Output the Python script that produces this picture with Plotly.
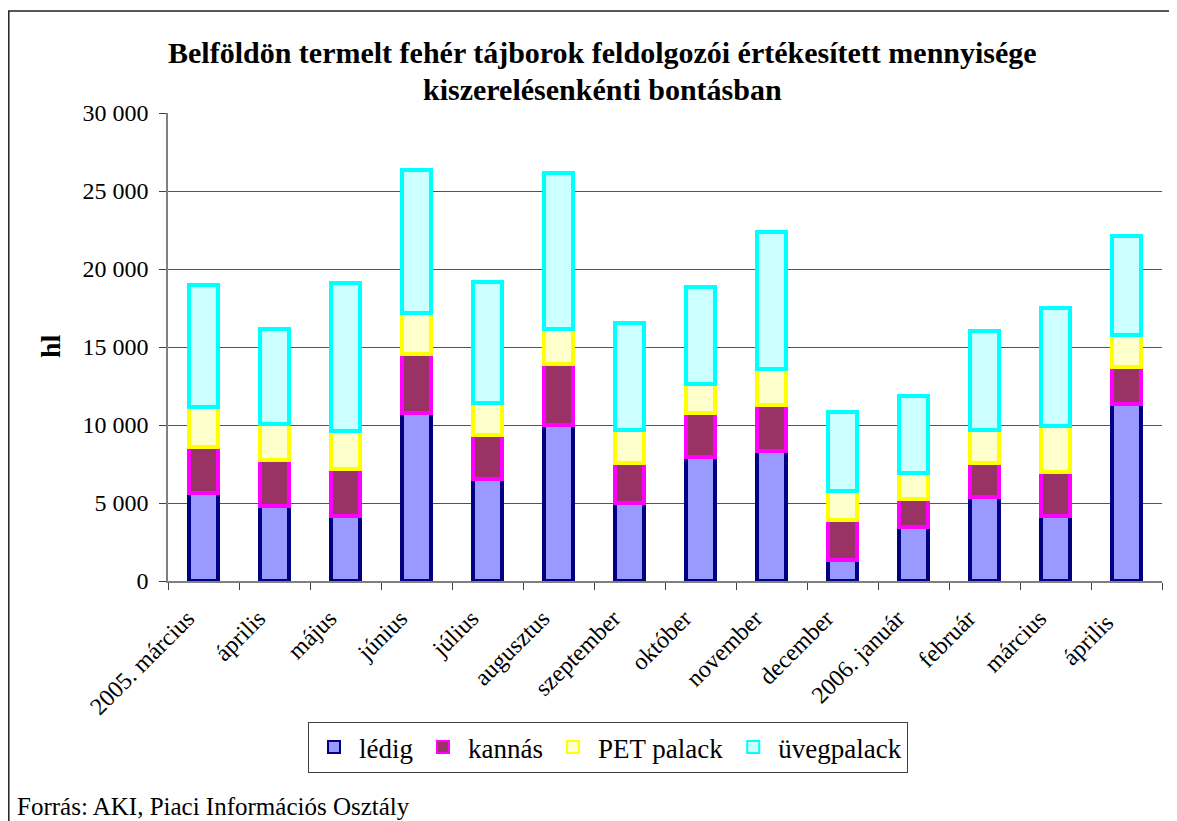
import plotly.graph_objects as go

categories = ["2005. március", "április", "május", "június", "július", "augusztus",
              "szeptember", "október", "november", "december", "2006. január",
              "február", "március", "április "]
ledig = [5650, 4830, 4160, 10770, 6540, 10020, 4980, 7920, 8350, 1330, 3470, 5410, 4160, 11370]
kannas = [2950, 2940, 3010, 3750, 2840, 3920, 2570, 2850, 2960, 2580, 1770, 2140, 2850, 2340]
pet = [2550, 2290, 2420, 2680, 2030, 2190, 2150, 1890, 2290, 1860, 1670, 2150, 2900, 2060]
uveg = [7850, 6090, 9500, 9120, 7770, 10040, 6860, 6160, 8750, 5040, 4980, 6320, 7620, 6370]

series = [
    ("lédig", ledig, "#9999FF", "#000080"),
    ("kannás", kannas, "#993366", "#FF00FF"),
    ("PET palack", pet, "#FFFFCC", "#FFFF00"),
    ("üvegpalack", uveg, "#CCFFFF", "#00FFFF"),
]

FONT = "Liberation Serif"

fig = go.Figure()
for name, vals, fill, line in series:
    fig.add_trace(go.Bar(
        x=categories, y=vals, name=name,
        marker=dict(color=fill, line=dict(color=line, width=4)),
    ))

# page body has ~8px margin; work in reference-screen coordinates and shift
OFF = 8
W, H = 1177 - OFF, 821 - OFF
PL, PR, PT, PB = 168, 1162, 113, 581  # plot area in screen coords
L, T = PL - OFF, PT - OFF
R = W - (PR - OFF)
B = H - (PB - OFF)
pw, ph = W - L - R, H - T - B

def px(x):
    return (x - PL) / pw

def py(y):
    return (PB - y) / ph

fig.update_layout(
    width=W, height=H,
    barmode="stack", bargap=0.6,
    margin=dict(l=L, r=R, t=T, b=B),
    paper_bgcolor="white", plot_bgcolor="white",
    font=dict(family=FONT, size=24, color="black"),
    separators=", ",
    showlegend=True,
    legend=dict(
        orientation="h", x=px(608), xanchor="center", y=py(722), yanchor="top",
        bordercolor="#404040", borderwidth=1, font=dict(size=27),
        traceorder="normal", itemsizing="constant", itemwidth=40,
    ),
    xaxis=dict(
        type="category", tickangle=-45, ticks="outside", tickson="boundaries",
        ticklen=7, tickcolor="#404040", showline=True, linecolor="#808080",
        linewidth=1.5, showgrid=False, tickfont=dict(size=24),
        ticklabelstandoff=12, ticklabelshift=-16,
    ),
    yaxis=dict(
        range=[0, 30000], dtick=5000, tickformat=",d", ticks="outside", ticklen=7,
        tickcolor="#404040", showline=True, linecolor="#808080", linewidth=1.5,
        showgrid=True, gridcolor="#555555", gridwidth=1, zeroline=False,
        tickfont=dict(size=24), ticklabelstandoff=6,
    ),
    shapes=[dict(type="rect", xref="paper", yref="paper",
                 x0=px(OFF + 0.8), x1=px(1200), y0=py(850), y1=py(11),
                 line=dict(color="#202020", width=1.5), layer="below")],
    annotations=[
        dict(text="<b>Belföldön termelt fehér tájborok feldolgozói értékesített mennyisége</b>",
             xref="paper", yref="paper", x=px(602), y=py(52), showarrow=False,
             xanchor="center", yanchor="middle", font=dict(size=30)),
        dict(text="<b>kiszerelésenkénti bontásban</b>",
             xref="paper", yref="paper", x=px(602), y=py(90), showarrow=False,
             xanchor="center", yanchor="middle", font=dict(size=30)),
        dict(text="<b>hl</b>", xref="paper", yref="paper", x=px(50), y=py(346),
             showarrow=False, textangle=-90, xanchor="center", yanchor="middle",
             font=dict(size=28)),
        dict(text="Forrás: AKI, Piaci Információs Osztály", xref="paper", yref="paper",
             x=px(15), y=py(806), showarrow=False, xanchor="left", yanchor="middle",
             font=dict(size=25)),
    ],
)

fig.write_html("out.html")
